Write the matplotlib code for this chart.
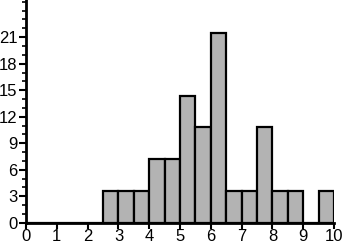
import matplotlib
matplotlib.use('Agg')
import matplotlib.pyplot as plt
from matplotlib.ticker import MultipleLocator

# bin edges (width 0.5) and bar heights
bin_left = [0.0, 0.5, 1.0, 1.5, 2.0, 2.5, 3.0, 3.5, 4.0, 4.5,
            5.0, 5.5, 6.0, 6.5, 7.0, 7.5, 8.0, 8.5, 9.0, 9.5]
heights = [0, 0, 0, 0, 0, 3.6, 3.6, 3.6, 7.2, 7.2,
           14.4, 10.8, 21.5, 3.6, 3.6, 10.8, 3.6, 3.6, 0, 3.6]
x_ticks = [0, 1, 2, 3, 4, 5, 6, 7, 8, 9, 10]
y_ticks = [0, 3, 6, 9, 12, 15, 18, 21]

plt.rcParams['font.family'] = ['Liberation Sans', 'DejaVu Sans']

fig = plt.figure(figsize=(3.43, 2.46), dpi=100)
ax = fig.add_axes([0.076, 0.094, 0.898, 0.906])

ax.bar(bin_left, heights, width=0.5, align='edge', color='#b3b3b3',
       edgecolor='black', linewidth=1.6, zorder=2)

ax.set_xlim(0, 10)
ax.set_ylim(0, 25.2)
ax.set_xticks(x_ticks)
ax.set_yticks(y_ticks)
ax.yaxis.set_minor_locator(MultipleLocator(1))

for s in ['top', 'right']:
    ax.spines[s].set_visible(False)
for s in ['left', 'bottom']:
    ax.spines[s].set_linewidth(2)
    ax.spines[s].set_zorder(3)

ax.tick_params(axis='both', which='major', labelsize=12, width=1.5, length=5, pad=1)
ax.tick_params(axis='y', which='minor', width=1.2, length=3)
ax.tick_params(axis='x', which='major', length=4, pad=0.5)

fig.savefig('out.png', dpi=100)
